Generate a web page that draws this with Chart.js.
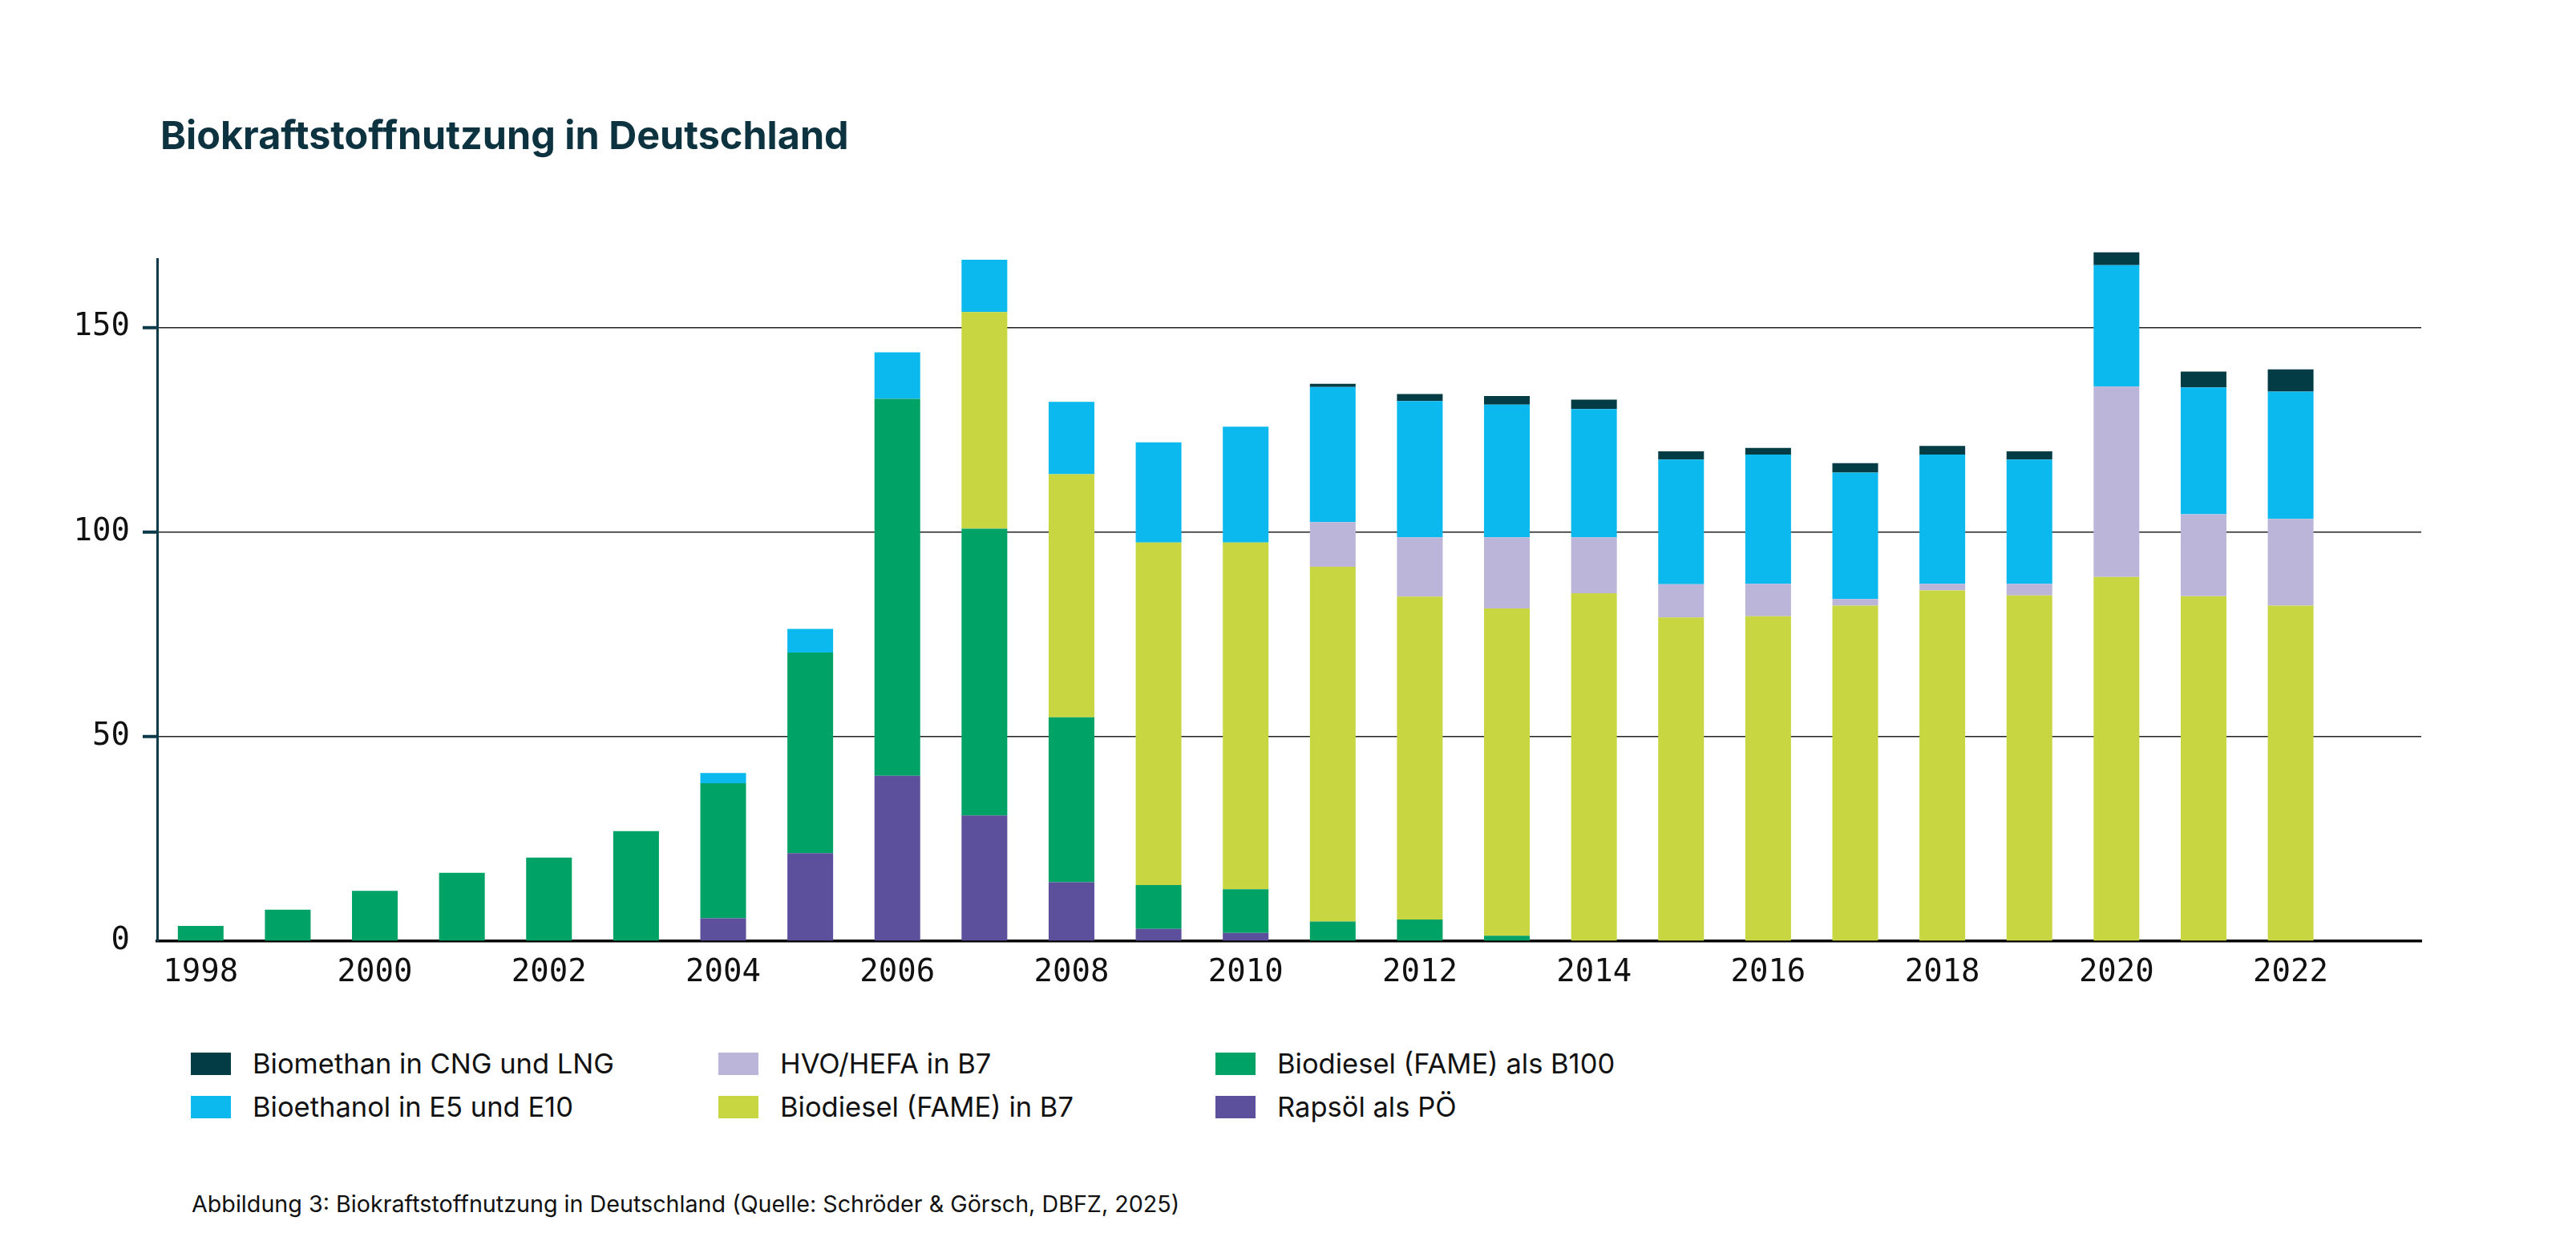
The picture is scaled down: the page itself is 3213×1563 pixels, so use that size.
<!DOCTYPE html>
<html lang="de">
<head>
<meta charset="utf-8">
<title>Biokraftstoffnutzung in Deutschland</title>
<script src="https://cdn.jsdelivr.net/npm/chart.js@4.4.1/dist/chart.umd.min.js"></script>
<style>
  html, body { margin: 0; padding: 0; background: #fff; }
  body { width: 3213px; height: 1563px; position: relative; overflow: hidden; font-family: Inter, "Noto Sans", sans-serif; }
  #title { position: absolute; left: 200px; top: 145px; font-size: 48.5px; line-height: 1; font-weight: 700; color: #0d3340; }
  #chartBox { position: absolute; left: 0; top: 280px; width: 3060px; height: 974px; }
  #legend { position: absolute; left: 238px; top: 1313px; display: grid; grid-template-columns: 658px 620px auto; grid-auto-flow: column; grid-template-rows: 54px 54px; }
  .item { display: flex; align-items: center; height: 28px; font-size: 34.5px; line-height: 28px; color: #111; }
  .swatch { width: 50px; height: 28px; margin-right: 27px; flex: none; }
  #note { position: absolute; left: 239px; top: 1488px; font-size: 28.7px; line-height: 1; color: #111; }
</style>
</head>
<body>
<div id="title">Biokraftstoffnutzung in Deutschland</div>
<div id="chartBox"><canvas id="bioChart"></canvas></div>
<div id="legend"></div>
<div id="note">Abbildung 3: Biokraftstoffnutzung in Deutschland (Quelle: Schröder &amp; Görsch, DBFZ, 2025)</div>

<script>
// years on the x axis (2023 left empty, as in the original)
const years = ['1998', '1999', '2000', '2001', '2002', '2003', '2004', '2005', '2006', '2007', '2008', '2009', '2010',
  '2011', '2012', '2013', '2014', '2015', '2016', '2017', '2018', '2019', '2020', '2021', '2022', '2023'];
const xTickLabels = ['1998', '2000', '2002', '2004', '2006', '2008', '2010', '2012', '2014', '2016', '2018', '2020', '2022'];
const yTickValues = [0, 50, 100, 150];

// values, stacked bottom to top
const rapsoel = [0, 0, 0, 0, 0, 0, 5.6, 21.5, 40.4, 30.7, 14.4, 3.0, 2.0, 0, 0, 0, 0, 0, 0, 0, 0, 0, 0, 0, 0, null];
const biodieselB100 = [3.7, 7.7, 12.3, 16.7, 20.4, 26.9, 33.0, 49.0, 92.1, 70.1, 40.3, 10.7, 10.7, 4.8, 5.3, 1.3, 0, 0, 0, 0, 0, 0, 0, 0, 0, null];
const biodieselB7 = [0, 0, 0, 0, 0, 0, 0, 0, 0, 52.9, 59.4, 83.7, 84.7, 86.7, 78.9, 80.0, 85.0, 79.1, 79.4, 82.0, 85.7, 84.5, 89.0, 84.3, 82.0, null];
const hvoHefa = [0, 0, 0, 0, 0, 0, 0, 0, 0, 0, 0, 0, 0, 10.9, 14.5, 17.4, 13.7, 8.1, 7.9, 1.6, 1.6, 2.8, 46.5, 20.0, 21.2, null];
const bioethanol = [0, 0, 0, 0, 0, 0, 2.5, 5.8, 11.4, 12.8, 17.7, 24.5, 28.3, 33.0, 33.3, 32.4, 31.3, 30.5, 31.6, 30.9, 31.6, 30.4, 29.7, 31.0, 31.1, null];
const biomethan = [0, 0, 0, 0, 0, 0, 0, 0, 0, 0, 0, 0, 0, 0.8, 1.7, 2.1, 2.3, 2.0, 1.6, 2.3, 2.1, 2.0, 3.1, 3.9, 5.4, null];

const monoFont = { family: '"DejaVu Sans Mono", "Liberation Mono", monospace', size: 39 };
const axisTeal = '#0b3a4a';

function barSet(label, data, color) {
  return {
    label: label,
    data: data,
    backgroundColor: color,
    borderWidth: 0,
    barPercentage: 0.525,
    categoryPercentage: 1.0,
    stack: 'all',
    clip: false
  };
}

const ctx = document.getElementById('bioChart');
const chart = new Chart(ctx, {
  type: 'bar',
  data: {
    labels: years,
    datasets: [
      barSet('Rapsöl als PÖ', rapsoel, '#5c4f9c'),
      barSet('Biodiesel (FAME) als B100', biodieselB100, '#00a266'),
      barSet('Biodiesel (FAME) in B7', biodieselB7, '#c8d641'),
      barSet('HVO/HEFA in B7', hvoHefa, '#bbb5da'),
      barSet('Bioethanol in E5 und E10', bioethanol, '#0cb9ee'),
      barSet('Biomethan in CNG und LNG', biomethan, '#033c45')
    ]
  },
  options: {
    responsive: true,
    maintainAspectRatio: false,
    devicePixelRatio: 1,
    animation: false,
    layout: { padding: { top: 43, right: 40, left: 0, bottom: 0 } },
    plugins: {
      legend: { display: false },
      tooltip: { enabled: false },
      title: { display: false }
    },
    scales: {
      x: {
        stacked: true,
        offset: true,
        grid: { display: true, drawOnChartArea: false, drawTicks: false },
        border: { display: true, color: '#000', width: 3.5 },
        ticks: {
          autoSkip: false,
          maxRotation: 0,
          padding: 16,
          color: '#111',
          font: monoFont,
          callback: function (value) {
            const year = this.getLabelForValue(value);
            return xTickLabels.includes(year) ? year : '';
          }
        },
        afterFit: (scale) => { scale.height = 80; }
      },
      y: {
        stacked: true,
        min: 0,
        max: 166.7,
        grid: {
          color: (c) => (c.tick && c.tick.value === 0 ? 'rgba(0,0,0,0)' : '#222'),
          lineWidth: 1.5,
          tickLength: 18,
          tickWidth: 4,
          tickColor: (c) => (c.tick && c.tick.value === 0 ? 'rgba(0,0,0,0)' : axisTeal)
        },
        border: { display: true, color: axisTeal, width: 3 },
        ticks: { padding: 16, color: '#111', font: monoFont },
        afterBuildTicks: (scale) => { scale.ticks = yTickValues.map(v => ({ value: v })); },
        afterFit: (scale) => { scale.width = 196; }
      }
    }
  }
});

// legend laid out in three columns, top of the stack first
const legendBox = document.getElementById('legend');
chart.data.datasets.slice().reverse().forEach(ds => {
  const item = document.createElement('div');
  item.className = 'item';
  const sw = document.createElement('span');
  sw.className = 'swatch';
  sw.style.background = ds.backgroundColor;
  const txt = document.createElement('span');
  txt.textContent = ds.label;
  item.appendChild(sw);
  item.appendChild(txt);
  legendBox.appendChild(item);
});
</script>
</body>
</html>
